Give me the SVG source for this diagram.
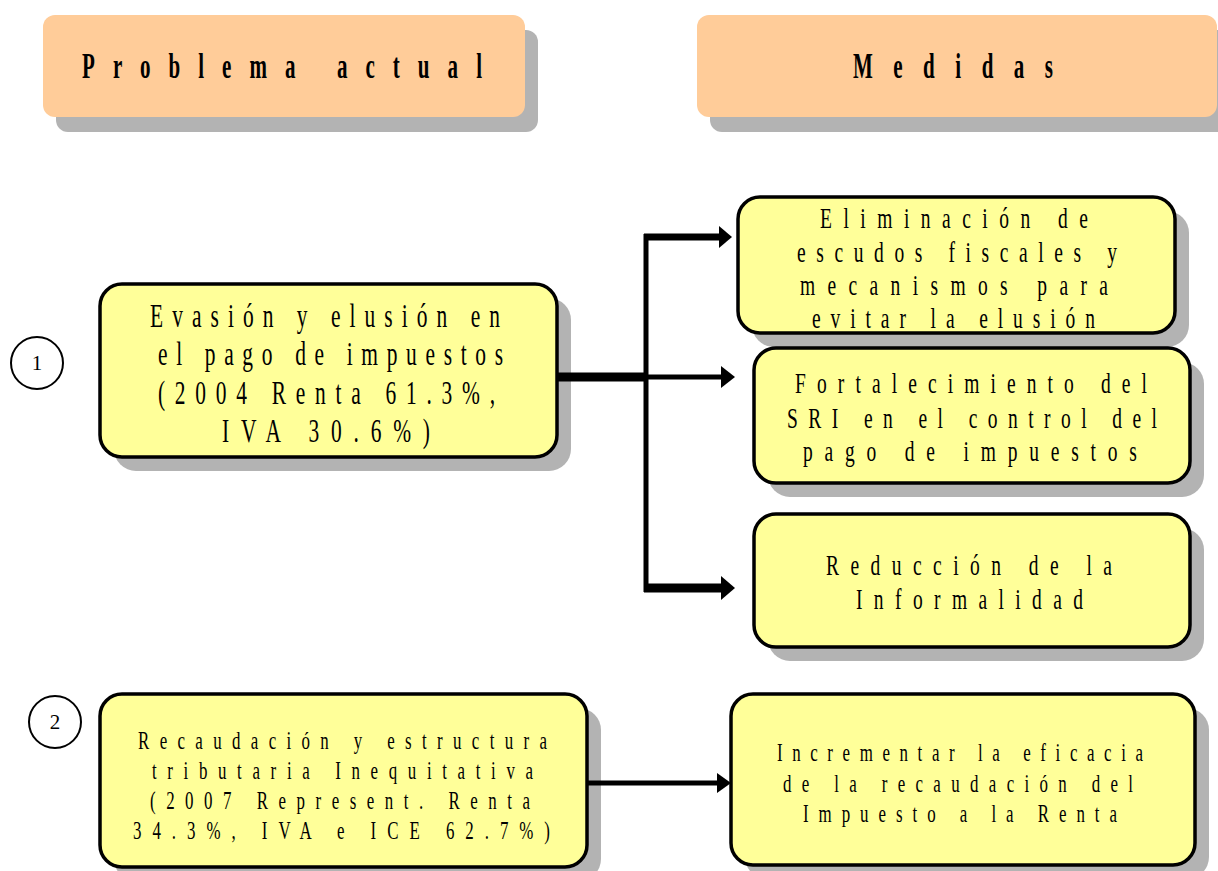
<svg xmlns="http://www.w3.org/2000/svg" width="1218" height="871" viewBox="0 0 1218 871">
<style>
.hdr{fill:#FFCC99}
.sh{fill:#B3B3B3}
.box{fill:#FFFF99;stroke:#000;stroke-width:3.5}
.t{font-family:"Liberation Serif","Times New Roman",serif;fill:#000}
.h{font-family:"Liberation Serif","Times New Roman",serif;font-weight:bold;font-size:35px;fill:#000}
.n{font-family:"Liberation Serif","Times New Roman",serif;font-size:21px;fill:#000;text-anchor:middle}
.ln{stroke:#000;fill:none}
.circ{fill:#fff;stroke:#000;stroke-width:2}
</style>
<rect width="1218" height="871" fill="#fff"/>
<g id="hdr-problema">
<rect class="sh" x="56" y="30" width="482" height="102" rx="12"/>
<rect class="hdr" x="43" y="15" width="482" height="102" rx="12"/>
<text class="h" transform="translate(82,78) scale(0.6,1)" textLength="666.7" lengthAdjust="spacing">Problema actual</text>
</g>
<g id="hdr-medidas">
<rect class="sh" x="710" y="30" width="520" height="102" rx="12"/>
<rect class="hdr" x="697" y="15" width="520" height="102" rx="12"/>
<text class="h" transform="translate(853,78) scale(0.6,1)" textLength="333.3" lengthAdjust="spacing">Medidas</text>
</g>
<g id="num1">
<circle class="circ" cx="37" cy="363" r="26"/>
<text class="n" x="37" y="370">1</text>
</g>
<g id="num2">
<circle class="circ" cx="55" cy="722" r="26"/>
<text class="n" x="55" y="729">2</text>
</g>
<g id="box-evasion">
<rect class="sh" x="114" y="298" width="457" height="173" rx="22"/>
<rect class="box" x="100" y="284" width="457" height="173" rx="22"/>
<g font-size="33">
<text class="t" transform="translate(150,327) scale(0.65,1)" textLength="538.5" lengthAdjust="spacing">Evasión y elusión en</text>
<text class="t" transform="translate(158,365) scale(0.65,1)" textLength="530.8" lengthAdjust="spacing">el pago de impuestos</text>
<text class="t" transform="translate(158,404) scale(0.65,1)" textLength="518.5" lengthAdjust="spacing">(2004 Renta 61.3%,</text>
<text class="t" transform="translate(222,442) scale(0.65,1)" textLength="320" lengthAdjust="spacing">IVA 30.6%)</text>
</g>
</g>
<g id="box-eliminacion">
<rect class="sh" x="752" y="211" width="437" height="136" rx="22"/>
<rect class="box" x="738" y="197" width="437" height="136" rx="22"/>
<g font-size="30">
<text class="t" transform="translate(820,228) scale(0.65,1)" textLength="412.3" lengthAdjust="spacing">Eliminación de</text>
<text class="t" transform="translate(797,262) scale(0.65,1)" textLength="492.3" lengthAdjust="spacing">escudos fiscales y</text>
<text class="t" transform="translate(800,295) scale(0.65,1)" textLength="473.8" lengthAdjust="spacing">mecanismos para</text>
<text class="t" transform="translate(812,328) scale(0.65,1)" textLength="435.4" lengthAdjust="spacing">evitar la elusión</text>
</g>
</g>
<g id="box-fortalecimiento">
<rect class="sh" x="768" y="362" width="436" height="135" rx="22"/>
<rect class="box" x="754" y="348" width="436" height="135" rx="22"/>
<g font-size="30">
<text class="t" transform="translate(795,393) scale(0.65,1)" textLength="541.5" lengthAdjust="spacing">Fortalecimiento del</text>
<text class="t" transform="translate(787,428) scale(0.65,1)" textLength="569.2" lengthAdjust="spacing">SRI en el control del</text>
<text class="t" transform="translate(803,461) scale(0.65,1)" textLength="513.8" lengthAdjust="spacing">pago de impuestos</text>
</g>
</g>
<g id="box-reduccion">
<rect class="sh" x="768" y="528" width="436" height="133" rx="22"/>
<rect class="box" x="754" y="514" width="436" height="133" rx="22"/>
<g font-size="30">
<text class="t" transform="translate(826,575) scale(0.65,1)" textLength="440" lengthAdjust="spacing">Reducción de la</text>
<text class="t" transform="translate(856,609) scale(0.65,1)" textLength="349.2" lengthAdjust="spacing">Informalidad</text>
</g>
</g>
<g id="box-recaudacion">
<rect class="sh" x="114" y="708" width="487" height="173" rx="22"/>
<rect class="box" x="100" y="694" width="487" height="173" rx="22"/>
<g font-size="26">
<text class="t" transform="translate(138,749) scale(0.65,1)" textLength="629.2" lengthAdjust="spacing">Recaudación y estructura</text>
<text class="t" transform="translate(152,779) scale(0.65,1)" textLength="586.2" lengthAdjust="spacing">tributaria Inequitativa</text>
<text class="t" transform="translate(150,809) scale(0.65,1)" textLength="584.6" lengthAdjust="spacing">(2007 Represent. Renta</text>
<text class="t" transform="translate(133,839) scale(0.65,1)" textLength="641.5" lengthAdjust="spacing">34.3%, IVA e ICE 62.7%)</text>
</g>
</g>
<g id="box-incrementar">
<rect class="sh" x="745" y="708" width="464" height="171" rx="22"/>
<rect class="box" x="731" y="694" width="464" height="171" rx="22"/>
<g font-size="26">
<text class="t" transform="translate(777,761) scale(0.65,1)" textLength="563.1" lengthAdjust="spacing">Incrementar la eficacia</text>
<text class="t" transform="translate(783,792) scale(0.65,1)" textLength="538.5" lengthAdjust="spacing">de la recaudación del</text>
<text class="t" transform="translate(803,822) scale(0.65,1)" textLength="483.1" lengthAdjust="spacing">Impuesto a la Renta</text>
</g>
</g>
<g id="connectors">
<line class="ln" x1="557" y1="377" x2="648" y2="377" stroke-width="9"/>
<line class="ln" x1="646" y1="234" x2="646" y2="592" stroke-width="5"/>
<line class="ln" x1="644" y1="237" x2="720" y2="237" stroke-width="7"/>
<polygon points="719,226 732,237 719,248" fill="#000"/>
<line class="ln" x1="644" y1="377" x2="722" y2="377" stroke-width="5"/>
<polygon points="721,366 735,377 721,388" fill="#000"/>
<line class="ln" x1="644" y1="588" x2="722" y2="588" stroke-width="9"/>
<polygon points="721,576 735,588 721,600" fill="#000"/>
<line class="ln" x1="587" y1="783" x2="718" y2="783" stroke-width="5"/>
<polygon points="717,773 731,783 717,793" fill="#000"/>
</g>
</svg>
